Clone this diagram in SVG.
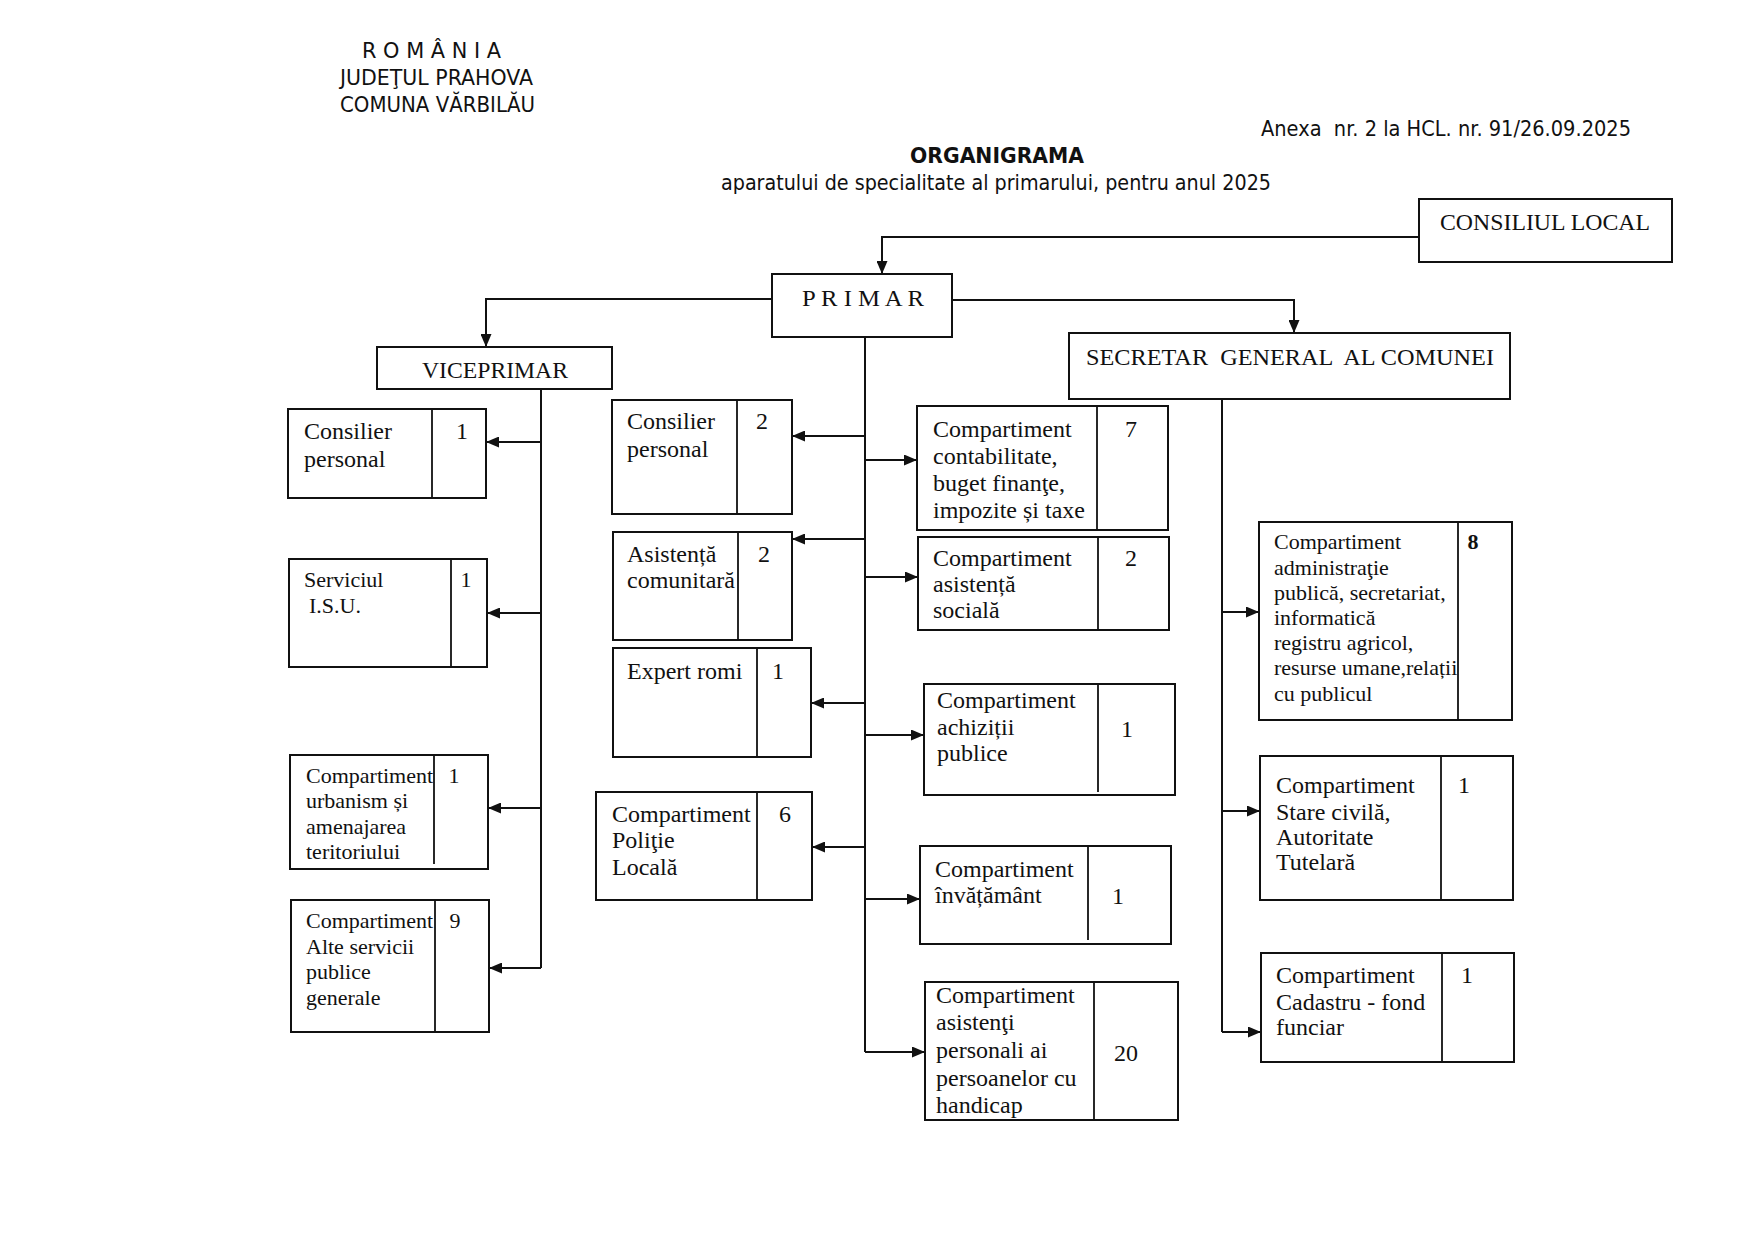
<svg xmlns="http://www.w3.org/2000/svg" width="1755" height="1240" viewBox="0 0 1755 1240">
<style>
.hd{font-family:"DejaVu Sans","Liberation Sans",sans-serif;font-size:21px;fill:#111}
.bx{fill:#fff;stroke:#111;stroke-width:2}
.dv{stroke:#111;stroke-width:1.8}
.t{font-family:"Liberation Serif","Times New Roman",serif;font-size:24px;fill:#111}
.s{font-size:22px}
.n{text-anchor:middle}
.pre{white-space:pre}
.c{fill:none;stroke:#111;stroke-width:2}
.ca{fill:none;stroke:#111;stroke-width:2;marker-end:url(#ah)}
</style>
<defs>
<marker id="ah" markerUnits="userSpaceOnUse" markerWidth="14" markerHeight="11" refX="13" refY="5.5" orient="auto">
<path d="M0,0 L13,5.5 L0,11 z" fill="#111"/>
</marker>
</defs>
<rect width="1755" height="1240" fill="#fff"/>

<g id="header">
<text class="hd" x="362" y="58" textLength="139" lengthAdjust="spacingAndGlyphs">R O M Â N I A</text>
<text class="hd" x="340" y="85" textLength="193" lengthAdjust="spacingAndGlyphs">JUDEŢUL PRAHOVA</text>
<text class="hd" x="340" y="112" textLength="195" lengthAdjust="spacingAndGlyphs">COMUNA VĂRBILĂU</text>
<text class="hd pre" x="1261" y="136" textLength="370" lengthAdjust="spacingAndGlyphs">Anexa  nr. 2 la HCL. nr. 91/26.09.2025</text>
<text class="hd" x="910" y="163" font-weight="bold" textLength="174" lengthAdjust="spacingAndGlyphs">ORGANIGRAMA</text>
<text class="hd" x="721" y="190" textLength="550" lengthAdjust="spacingAndGlyphs">aparatului de specialitate al primarului, pentru anul 2025</text>
</g>

<g id="connectors">
<path class="ca" d="M1419,237 H882 V274"/>
<path class="ca" d="M772,299 H486 V347"/>
<path class="ca" d="M952,300 H1294 V333"/>
<path class="c" d="M865,337 V1052"/>
<path class="ca" d="M865,436 H792"/>
<path class="ca" d="M865,539 H792"/>
<path class="ca" d="M865,703 H811"/>
<path class="ca" d="M865,847 H812"/>
<path class="ca" d="M865,460 H917"/>
<path class="ca" d="M865,577 H918"/>
<path class="ca" d="M865,735 H924"/>
<path class="ca" d="M865,899 H920"/>
<path class="ca" d="M865,1052 H925"/>
<path class="c" d="M541,389 V968"/>
<path class="ca" d="M541,442 H486"/>
<path class="ca" d="M541,613 H487"/>
<path class="ca" d="M541,808 H488"/>
<path class="ca" d="M541,968 H489"/>
<path class="c" d="M1222,399 V1032"/>
<path class="ca" d="M1222,612 H1259"/>
<path class="ca" d="M1222,811 H1260"/>
<path class="ca" d="M1222,1032 H1261"/>
</g>

<g id="consiliul-local">
<rect class="bx" x="1419" y="199" width="253" height="63"/>
<text class="t" x="1440" y="230" font-size="23" textLength="210" lengthAdjust="spacingAndGlyphs">CONSILIUL LOCAL</text>
</g>
<g id="primar">
<rect class="bx" x="772" y="274" width="180" height="63"/>
<text class="t" x="802" y="306" font-size="23" textLength="122" lengthAdjust="spacingAndGlyphs">P R I M A R</text>
</g>
<g id="secretar">
<rect class="bx" x="1069" y="333" width="441" height="66"/>
<text class="t pre" x="1086" y="365" font-size="23" textLength="408" lengthAdjust="spacingAndGlyphs">SECRETAR  GENERAL  AL COMUNEI</text>
</g>
<g id="viceprimar">
<rect class="bx" x="377" y="347" width="235" height="42"/>
<text class="t" x="422" y="378" font-size="23" textLength="146" lengthAdjust="spacingAndGlyphs">VICEPRIMAR</text>
</g>

<g id="consilier-vice">
<rect class="bx" x="288" y="409" width="198" height="89"/>
<line class="dv" x1="432" y1="409" x2="432" y2="498"/>
<text class="t" x="304" y="439">Consilier</text>
<text class="t" x="304" y="467">personal</text>
<text class="t n" x="462" y="439">1</text>
</g>
<g id="isu">
<rect class="bx" x="289" y="559" width="198" height="108"/>
<line class="dv" x1="451" y1="559" x2="451" y2="667"/>
<text class="t s" x="304" y="587">Serviciul</text>
<text class="t s" x="309" y="613">I.S.U.</text>
<text class="t s n" x="466" y="587">1</text>
</g>
<g id="urbanism">
<rect class="bx" x="290" y="755" width="198" height="114"/>
<line class="dv" x1="434" y1="755" x2="434" y2="864"/>
<text class="t s" x="306" y="783">Compartiment</text>
<text class="t s" x="306" y="808">urbanism și</text>
<text class="t s" x="306" y="834">amenajarea</text>
<text class="t s" x="306" y="859">teritoriului</text>
<text class="t s n" x="454" y="783">1</text>
</g>
<g id="alte-servicii">
<rect class="bx" x="291" y="900" width="198" height="132"/>
<line class="dv" x1="435" y1="900" x2="435" y2="1032"/>
<text class="t s" x="306" y="928">Compartiment</text>
<text class="t s" x="306" y="954">Alte servicii</text>
<text class="t s" x="306" y="979">publice</text>
<text class="t s" x="306" y="1005">generale</text>
<text class="t s n" x="455" y="928">9</text>
</g>

<g id="consilier-primar">
<rect class="bx" x="612" y="400" width="180" height="114"/>
<line class="dv" x1="737" y1="400" x2="737" y2="514"/>
<text class="t" x="627" y="429">Consilier</text>
<text class="t" x="627" y="457">personal</text>
<text class="t n" x="762" y="429">2</text>
</g>
<g id="asistenta-comunitara">
<rect class="bx" x="613" y="532" width="179" height="108"/>
<line class="dv" x1="738" y1="532" x2="738" y2="640"/>
<text class="t" x="627" y="562">Asistență</text>
<text class="t" x="627" y="588">comunitară</text>
<text class="t n" x="764" y="562">2</text>
</g>
<g id="expert-romi">
<rect class="bx" x="613" y="648" width="198" height="109"/>
<line class="dv" x1="757" y1="648" x2="757" y2="757"/>
<text class="t" x="627" y="679">Expert romi</text>
<text class="t n" x="778" y="679">1</text>
</g>
<g id="politie-locala">
<rect class="bx" x="596" y="792" width="216" height="108"/>
<line class="dv" x1="757" y1="792" x2="757" y2="900"/>
<text class="t" x="612" y="822">Compartiment</text>
<text class="t" x="612" y="848">Poliţie</text>
<text class="t" x="612" y="875">Locală</text>
<text class="t n" x="785" y="822">6</text>
</g>

<g id="contabilitate">
<rect class="bx" x="917" y="406" width="251" height="124"/>
<line class="dv" x1="1097" y1="406" x2="1097" y2="530"/>
<text class="t" x="933" y="437">Compartiment</text>
<text class="t" x="933" y="464">contabilitate,</text>
<text class="t" x="933" y="491">buget finanţe,</text>
<text class="t" x="933" y="518">impozite și taxe</text>
<text class="t n" x="1131" y="437">7</text>
</g>
<g id="asistenta-sociala">
<rect class="bx" x="918" y="537" width="251" height="93"/>
<line class="dv" x1="1098" y1="537" x2="1098" y2="630"/>
<text class="t" x="933" y="566">Compartiment</text>
<text class="t" x="933" y="592">asistență</text>
<text class="t" x="933" y="618">socială</text>
<text class="t n" x="1131" y="566">2</text>
</g>
<g id="achizitii">
<rect class="bx" x="924" y="684" width="251" height="111"/>
<line class="dv" x1="1098" y1="684" x2="1098" y2="792"/>
<text class="t" x="937" y="708">Compartiment</text>
<text class="t" x="937" y="735">achiziții</text>
<text class="t" x="937" y="761">publice</text>
<text class="t n" x="1127" y="737">1</text>
</g>
<g id="invatamant">
<rect class="bx" x="920" y="846" width="251" height="98"/>
<line class="dv" x1="1088" y1="846" x2="1088" y2="940"/>
<text class="t" x="935" y="877">Compartiment</text>
<text class="t" x="935" y="903">învățământ</text>
<text class="t n" x="1118" y="904">1</text>
</g>
<g id="asistenti-personali">
<rect class="bx" x="925" y="982" width="253" height="138"/>
<line class="dv" x1="1094" y1="982" x2="1094" y2="1120"/>
<text class="t" x="936" y="1003">Compartiment</text>
<text class="t" x="936" y="1030">asistenţi</text>
<text class="t" x="936" y="1058">personali ai</text>
<text class="t" x="936" y="1086">persoanelor cu</text>
<text class="t" x="936" y="1113">handicap</text>
<text class="t n" x="1126" y="1061">20</text>
</g>

<g id="administratie">
<rect class="bx" x="1259" y="522" width="253" height="198"/>
<line class="dv" x1="1458" y1="522" x2="1458" y2="720"/>
<text class="t s" x="1274" y="549">Compartiment</text>
<text class="t s" x="1274" y="575">administraţie</text>
<text class="t s" x="1274" y="600">publică, secretariat,</text>
<text class="t s" x="1274" y="625">informatică</text>
<text class="t s" x="1274" y="650">registru agricol,</text>
<text class="t s" x="1274" y="675">resurse umane,relații</text>
<text class="t s" x="1274" y="701">cu publicul</text>
<text class="t s n" x="1473" y="549" font-weight="bold">8</text>
</g>
<g id="stare-civila">
<rect class="bx" x="1260" y="756" width="253" height="144"/>
<line class="dv" x1="1441" y1="756" x2="1441" y2="900"/>
<text class="t" x="1276" y="793">Compartiment</text>
<text class="t" x="1276" y="820">Stare civilă,</text>
<text class="t" x="1276" y="845">Autoritate</text>
<text class="t" x="1276" y="870">Tutelară</text>
<text class="t n" x="1464" y="793">1</text>
</g>
<g id="cadastru">
<rect class="bx" x="1261" y="953" width="253" height="109"/>
<line class="dv" x1="1442" y1="953" x2="1442" y2="1062"/>
<text class="t" x="1276" y="983">Compartiment</text>
<text class="t" x="1276" y="1010">Cadastru - fond</text>
<text class="t" x="1276" y="1035">funciar</text>
<text class="t n" x="1467" y="983">1</text>
</g>
</svg>
